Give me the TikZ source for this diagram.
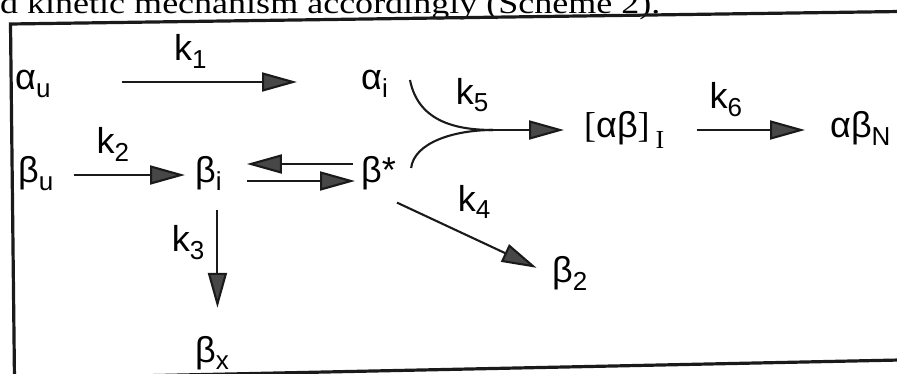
\documentclass[tikz,border=0pt]{standalone}
\usepackage{fontspec}
\setmainfont{Liberation Serif}
\setsansfont{Liberation Sans}
\usepackage{tikz}
\usetikzlibrary{arrows.meta,positioning}
\definecolor{ink}{HTML}{1A1A1A}
\definecolor{headgray}{HTML}{474747}
\newcommand{\sbs}[1]{\raisebox{-0.2em}{\fontsize{26}{26}\selectfont #1}}

\begin{document}
\begin{tikzpicture}[x=1pt,y=-1pt,
  font=\sffamily\fontsize{36}{42}\selectfont,
  sp/.style={inner sep=0pt,anchor=base west,text height=24pt,text depth=8pt},
  rate/.style={inner sep=0pt,text height=24pt,text depth=8pt},
  arr/.style={-{Triangle[length=35pt,width=19pt,fill=headgray]},line width=2.1pt,draw=ink},
  ln/.style={line width=2.1pt,draw=ink},
  frame/.style={line width=3.2pt,draw=ink}
]
\useasboundingbox (0,0) rectangle (897,374);
\clip (0,0) rectangle (897,374);
% running text above the scheme, cut by the page
\node[anchor=base west,inner sep=0pt,font=\rmfamily\fontsize{30}{34}\selectfont] (lead) at (0,14)
  {\resizebox{660pt}{\height}{d kinetic mechanism accordingly (Scheme 2).}};
\draw[frame] (900,11.5) -- (10.5,24) -- (14.5,380);
\draw[frame] (14.5,378.5) -- (900,360);
% species
\node[sp] (au) at (15,90) {α\sbs{u}};
\node[sp] (ai) at (361,90) {α\sbs{i}};
\node[sp] (bu) at (18,183) {β\sbs{u}};
\node[sp] (bi) at (195,183) {β\sbs{i}};
\node[sp] (bs) at (361,183) {β*};
\node[sp] (abI) at (584,138) {{\rmfamily[}αβ{\rmfamily]}\,\raisebox{-0.3em}{\rmfamily\fontsize{26}{26}\selectfont I}};
\node[sp] (abN) at (830,138) {αβ\sbs{N}};
\node[sp] (b2) at (552,283) {β\sbs{2}};
\node[sp] (bx) at (195,362) {β\sbs{x}};
% steps
\draw[arr,shorten <=71pt,shorten >=64pt] (au) -- node[rate,above=12pt,pos=0.45] {k\sbs{1}} (ai);
\draw[arr,shorten <=20pt,shorten >=10pt] (bu) -- node[rate,above=12pt,pos=0.42] {k\sbs{2}} (bi);
\draw[arr,shorten <=8pt,shorten >=25pt] ([yshift=11pt]bs.west) -- ([yshift=11pt]bi.east);
\draw[arr,shorten <=25pt,shorten >=6pt] ([yshift=-6pt]bi.east) -- ([yshift=-6pt]bs.west);
\draw[arr,shorten <=19pt,shorten >=30pt] ([xshift=9pt]bi.south) -- ([xshift=9pt]bi.south |- bx.north)
  node[rate,left=12pt,pos=0.36] {k\sbs{3}};
\draw[arr,shorten <=1pt,shorten >=17pt] ([yshift=-11pt]bs.south east) -- (b2.west)
  node[rate,above=18pt,pos=0.5] {k\sbs{4}};
\coordinate (jn) at (493,130);
\draw[ln] ([xshift=22pt,yshift=2pt]ai.east) .. controls +(8,40) and +(-40,0) .. (jn);
\draw[ln] ([xshift=15pt,yshift=7pt]bs.east) .. controls +(3,-25) and +(-40,0) .. (jn);
\draw[arr,shorten >=20pt] (jn) -- (abI);
\node[rate,above left=17pt and 4.5pt of jn] (k5) {k\sbs{5}};
\draw[arr,shorten <=32pt,shorten >=25pt] (abI) -- node[rate,above=12pt,pos=0.37] {k\sbs{6}} (abN);
\end{tikzpicture}
\end{document}
